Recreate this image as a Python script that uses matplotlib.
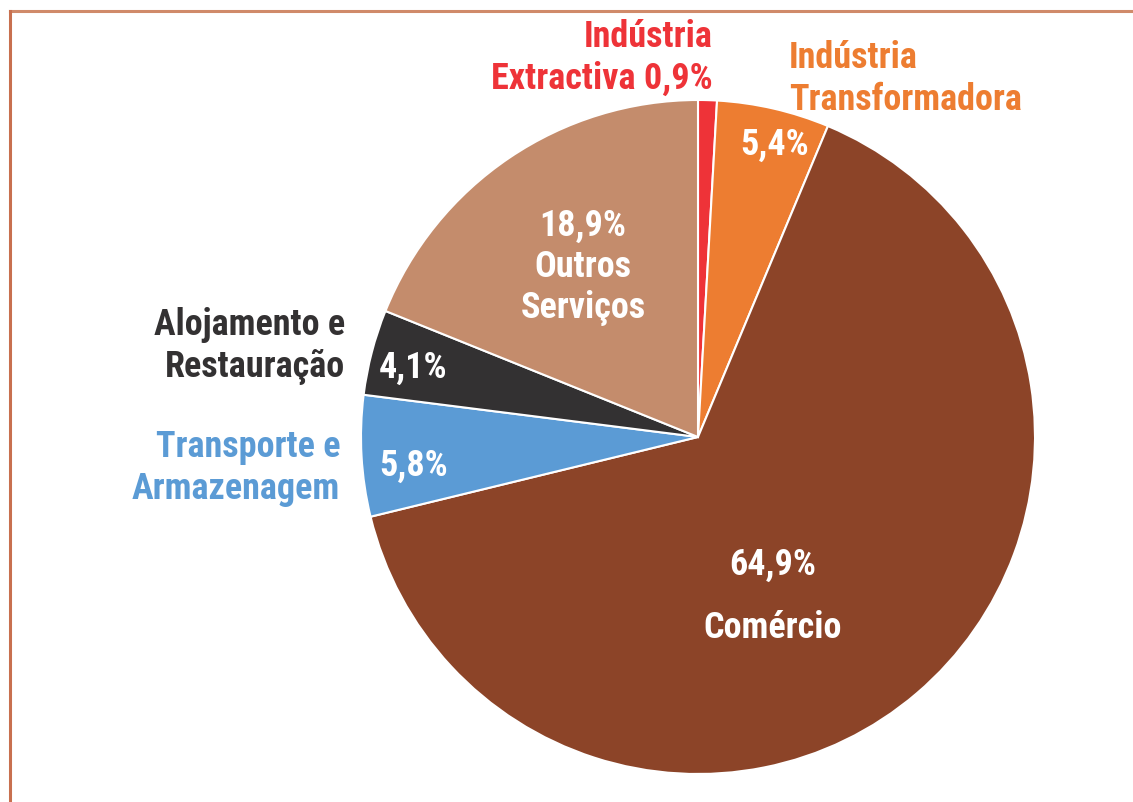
import matplotlib
matplotlib.use("Agg")
import matplotlib.pyplot as plt
from matplotlib.lines import Line2D

categories = ["Indústria Extractiva", "Indústria Transformadora", "Comércio",
              "Transporte e Armazenagem", "Alojamento e Restauração", "Outros Serviços"]
values = [0.9, 5.4, 64.9, 5.8, 4.1, 18.9]
colors = ["#ee3338", "#ed7d31", "#8c4428", "#5b9bd5", "#333132", "#c48c6c"]

plt.rcParams['font.family'] = ['Liberation Sans Narrow', 'Roboto Condensed',
                               'Fira Sans Condensed', 'DejaVu Sans']

W, H = 1133, 803
fig = plt.figure(figsize=(W / 100, H / 100), dpi=100)
ax = fig.add_axes([0, 0, 1, 1])

# pie drawn in pixel-like coordinates (y inverted -> counterclock True gives clockwise)
cx, cy, r = 698, 438, 337
ax.pie(values, colors=colors, startangle=-90, counterclock=True,
       center=(cx, cy), radius=r, frame=True,
       wedgeprops=dict(edgecolor="white", linewidth=1.5))
ax.set_xlim(0, W)
ax.set_ylim(H, 0)
ax.set_aspect("equal")
ax.axis("off")

def pct(v):
    return f"{v:.1f}%".replace(".", ",")

fs = 26
ls = 1.19
ax.text(713, 58, "Indústria\nExtractiva " + pct(values[0]), color=colors[0], fontsize=fs,
        fontweight="bold", ha="right", va="center", linespacing=ls, multialignment="right")
ax.text(789, 79, "Indústria\nTransformadora", color=colors[1], fontsize=fs,
        fontweight="bold", ha="left", va="center", linespacing=ls)
ax.text(775, 145, pct(values[1]), color="white", fontsize=fs, fontweight="bold",
        ha="center", va="center")
ax.text(773, 565, pct(values[2]), color="white", fontsize=fs, fontweight="bold",
        ha="center", va="center")
ax.text(773, 628, "Comércio", color="white", fontsize=fs, fontweight="bold",
        ha="center", va="center")
ax.text(414, 466, pct(values[3]), color="white", fontsize=fs, fontweight="bold",
        ha="center", va="center")
ax.text(340, 468, "Transporte e\nArmazenagem", color=colors[3], fontsize=fs,
        fontweight="bold", ha="right", va="center", linespacing=ls, multialignment="right")
ax.text(413, 368, pct(values[4]), color="white", fontsize=fs, fontweight="bold",
        ha="center", va="center")
ax.text(345, 346, "Alojamento e\nRestauração", color=colors[4], fontsize=fs,
        fontweight="bold", ha="right", va="center", linespacing=ls, multialignment="right")
ax.text(583, 267, pct(values[5]) + "\nOutros\nServiços", color="white", fontsize=fs,
        fontweight="bold", ha="center", va="center", linespacing=ls)

# frame lines
ax.add_line(Line2D([9.5, W], [12, 12], color="#d08a6a", linewidth=2.2))
ax.add_line(Line2D([9.5, 9.5], [12, H], color="#c8704f", linewidth=2.2))

fig.savefig("out.png", dpi=100)
